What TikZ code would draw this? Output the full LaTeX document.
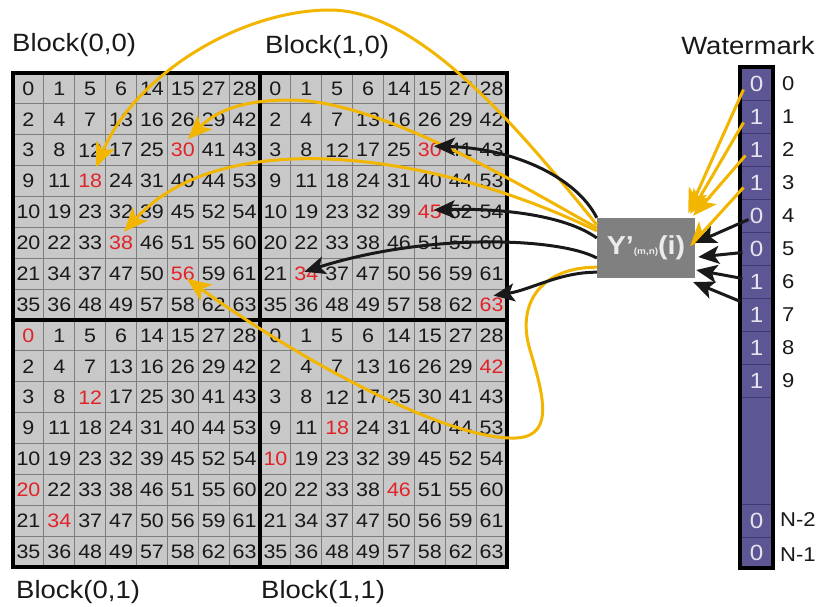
\documentclass[tikz,border=0pt]{standalone}
\usepackage{fontspec}
\setmainfont{Liberation Sans}[FakeStretch=1.1]
\usetikzlibrary{arrows.meta,calc}
\definecolor{cellgray}{RGB}{200,200,200}
\definecolor{gridline}{RGB}{125,125,125}
\definecolor{numc}{RGB}{25,25,25}
\definecolor{rednum}{RGB}{225,35,40}
\definecolor{wmfill}{RGB}{92,86,148}
\definecolor{wmline}{RGB}{62,57,112}
\definecolor{wmtext}{RGB}{228,228,238}
\definecolor{gold}{RGB}{242,182,0}
\definecolor{boxgray}{RGB}{128,128,128}
\newcommand\markred[4]{\expandafter\def\csname red-#1-#2-#3-#4\endcsname{}}
\markred{0}{0}{2}{5}\markred{0}{0}{3}{2}\markred{0}{0}{5}{3}\markred{0}{0}{6}{5}
\markred{1}{0}{2}{5}\markred{1}{0}{4}{5}\markred{1}{0}{6}{1}\markred{1}{0}{7}{7}
\markred{0}{1}{0}{0}\markred{0}{1}{2}{2}\markred{0}{1}{5}{0}\markred{0}{1}{6}{1}
\markred{1}{1}{1}{7}\markred{1}{1}{3}{2}\markred{1}{1}{4}{0}\markred{1}{1}{5}{4}
\tikzset{
  cellnum/.style={inner sep=0pt, font=\fontsize{19.5}{19.5}\selectfont},
  blocklabel/.style={inner sep=0pt, anchor=base west, text=numc, font=\fontsize{25}{25}\selectfont},
  wmbit/.style={inner sep=0pt, text=wmtext, font=\fontsize{22}{22}\selectfont},
  wmidx/.style={inner sep=0pt, anchor=west, text=numc, font=\fontsize{20}{20}\selectfont},
  ybox/.style={fill=boxgray, minimum width=98pt, minimum height=60pt, inner sep=0pt,
    text=white!92!black, font=\bfseries\fontsize{26}{26}\selectfont},
  goldarrow/.style={draw=gold, line width=3pt, -{Stealth[length=24pt,width=20pt,inset=6pt]}},
  blackarrow/.style={draw=black!90, line width=3pt, -{Stealth[length=21pt,width=18pt,inset=5pt]}},
}
\begin{document}
\begin{tikzpicture}[x=1pt,y=-1pt]
\fill[white] (0,0) rectangle (830,606);
\useasboundingbox (0,0) rectangle (830,606);
% grid
\fill[cellgray] (13,73) rectangle (507,567);
\foreach \i in {1,...,15}{
  \draw[gridline,line width=0.8pt] ({13+\i*30.875},73) -- ++(0,494);
  \draw[gridline,line width=0.8pt] (13,{73+\i*30.875}) -- ++(494,0);
}
\draw[line width=3.5pt] (260,73) -- (260,567);
\draw[line width=3.5pt] (13,320) -- (507,320);
\draw[line width=4pt] (13,73) rectangle (507,567);
% numbers
\foreach \bx in {0,1}{
 \foreach \by in {0,1}{
  \foreach \rowvals [count=\rr from 0] in {{0,1,5,6,14,15,27,28},{2,4,7,13,16,26,29,42},{3,8,12,17,25,30,41,43},{9,11,18,24,31,40,44,53},{10,19,23,32,39,45,52,54},{20,22,33,38,46,51,55,60},{21,34,37,47,50,56,59,61},{35,36,48,49,57,58,62,63}}{
   \foreach \v [count=\cc from 0] in \rowvals {
     \ifcsname red-\bx-\by-\rr-\cc\endcsname\def\ncol{rednum}\else\def\ncol{numc}\fi
     \node[cellnum,text=\ncol] (c\bx\by-\rr-\cc) at ({13+(8*\bx+\cc+0.5)*30.875},{73+(8*\by+\rr+0.5)*30.875}) {\v};
   }
  }
 }
}
% block labels
\node[blocklabel] (b00) at (12,51) {Block(0,0)};
\node[blocklabel] (b10) at (265,53) {Block(1,0)};
\node[blocklabel] (b01) at (16,598) {Block(0,1)};
\node[blocklabel] (b11) at (261,598) {Block(1,1)};
% Y box
\node[ybox] (Y) at (646,248) {Y’{\fontsize{9}{9}\selectfont(m,n)}(i)};
% watermark
\node[inner sep=0pt, text=numc, font=\fontsize{25}{25}\selectfont] (wmt) at (748,46) {Watermark};
\fill[wmfill] (740,67) rectangle (773,568);
\foreach \yy in {100,133,166,199,232,265,298,331,364,397,504,537}
  \draw[wmline,line width=0.9pt] (740,\yy) -- (773,\yy);
\draw[line width=3.6pt] (740,67) rectangle (773,568);
\foreach \b [count=\k from 0] in {0,1,1,1,0,0,1,1,1,1}{
  \node[wmbit] (w\k) at (756.5,{83.5+33*\k}) {\b};
  \node[wmidx] (l\k) at (782,{84+33*\k}) {\k};
}
\node[wmbit] (wN2) at (756.5,521) {0};
\node[wmbit] (wN1) at (756.5,553) {0};
\node[wmidx] (lN2) at (780,520) {N-2};
\node[wmidx] (lN1) at (780,555) {N-1};
% gold arrows from box to block(0,0)
\draw[goldarrow] ($(Y.north west)+(0,7)$) .. controls (520,130) and (420,10) .. (330,10)
   .. controls (240,10) and (135,75) .. ($(c00-3-2.center)+(6,-14)$);
\draw[goldarrow] ($(Y.north west)+(0,10)$) .. controls (520,185) and (380,100) .. (290,100)
   .. controls (240,100) and (215,112) .. ($(c00-2-5.center)+(5,-11)$);
\draw[goldarrow] ($(Y.north west)+(0,13)$) .. controls (430,150) and (220,125) .. ($(c00-5-3.center)+(3,-11)$);
\draw[goldarrow] ($(Y.south west)+(0,-11)$) .. controls (545,267) and (515,300) .. (530,350)
   .. controls (545,400) and (555,440) .. (510,438)
   .. controls (440,436) and (300,360) .. ($(c00-6-5.center)+(4,5)$);
% black arrows from box to block(1,0)
\draw[blackarrow] (Y.north west) .. controls (575,175) and (510,148) .. ($(c10-2-5.center)+(4,-4)$);
\draw[blackarrow] ($(Y.west)+(0,-10)$) .. controls (565,215) and (500,208) .. ($(c10-4-5.center)+(4,-2)$);
\draw[blackarrow] ($(Y.west)+(0,10)$) .. controls (560,238) and (430,232) .. ($(c10-6-1.center)+(-2,-2)$);
\draw[blackarrow] ($(Y.south west)+(0,-6)$) .. controls (560,272) and (530,290) .. ($(c10-7-7.center)+(2,-9)$);
% arrows from watermark to box
\draw[goldarrow] ($(w0.center)+(-13,6)$) -- ($(Y.north east)+(-7,-5)$);
\draw[goldarrow] ($(w1.center)+(-13,6)$) -- ($(Y.north east)+(-5,-4)$);
\draw[goldarrow] ($(w2.center)+(-11,6)$) -- ($(Y.north east)+(-2,-2)$);
\draw[goldarrow] ($(w3.center)+(-13,5)$) -- ($(Y.east)+(-5,-2)$);
\draw[blackarrow] ($(w4.center)+(-8,4)$) -- ($(Y.east)+(0,-5)$);
\draw[blackarrow] ($(w5.center)+(-14,4)$) -- ($(Y.east)+(3,9)$);
\draw[blackarrow] ($(w6.center)+(-14,-3)$) -- ($(Y.east)+(1,22)$);
\draw[blackarrow] ($(w7.center)+(-16,-13)$) -- ($(Y.east)+(-2,34)$);
\end{tikzpicture}
\end{document}
